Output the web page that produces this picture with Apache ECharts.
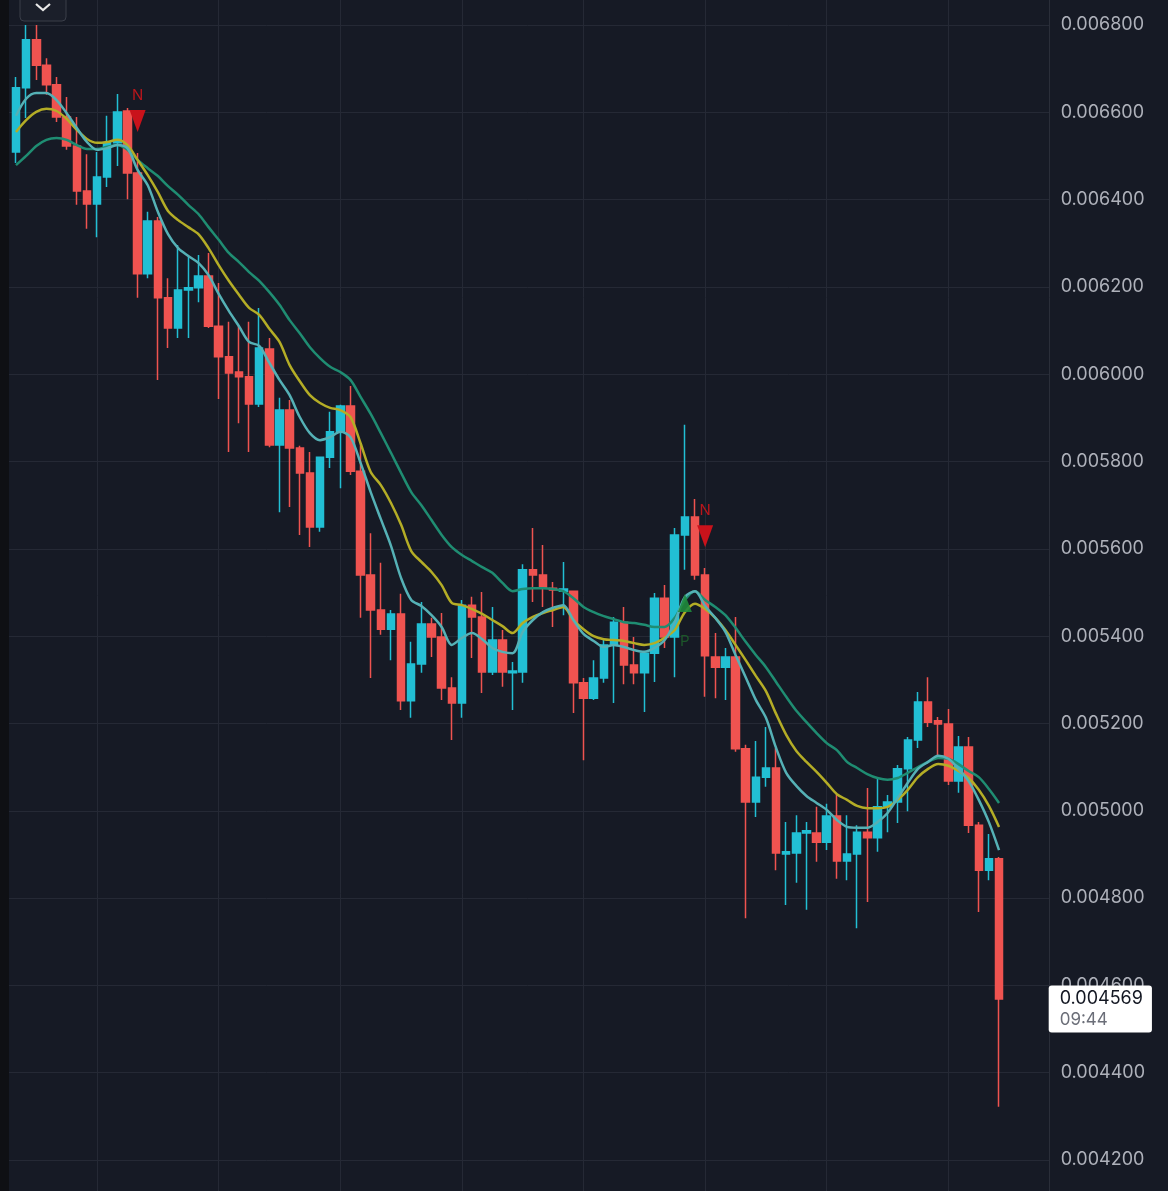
<!DOCTYPE html>
<html>
<head>
<meta charset="utf-8">
<script src="https://cdn.jsdelivr.net/npm/echarts@6/dist/echarts.min.js"></script>
<style>
html,body{margin:0;padding:0;background:#161a25;}
#chart{width:1168px;height:1191px;}
</style>
</head>
<body>
<div id="chart"></div>
<script>
// ---- data ----
const opens = [0.006509,0.006656,0.006766,0.006708,0.006663,0.006589,0.006523,0.006420,0.006390,0.006452,
0.006530,0.006603,0.006461,0.006230,0.006351,0.006175,0.006106,0.006193,0.006198,0.006225,
0.006110,0.006040,0.006005,0.005994,0.005932,0.006058,0.005838,0.005918,0.005831,0.005774,
0.005650,0.005810,0.005868,0.005927,0.005778,0.005540,0.005460,0.005416,0.005451,0.005252,
0.005336,0.005428,0.005398,0.005281,0.005247,0.005471,0.005444,0.005318,0.005391,0.005316,
0.005318,0.005552,0.005540,0.005510,0.005503,0.005503,0.005293,0.005258,0.005304,0.005380,
0.005432,0.005334,0.005316,0.005361,0.005487,0.005398,0.005632,0.005673,0.005540,0.005352,
0.005329,0.005352,0.005142,0.005020,0.005077,0.005098,0.004901,0.004903,0.004949,0.004949,
0.004928,0.004988,0.004885,0.004901,0.004951,0.004938,0.005009,0.005020,0.005096,0.005162,
0.005249,0.005206,0.005199,0.005068,0.005146,0.004967,0.004864,0.004890];
const closes = [0.006656,0.006766,0.006708,0.006663,0.006589,0.006523,0.006420,0.006390,0.006452,0.006530,
0.006601,0.006461,0.006230,0.006351,0.006175,0.006106,0.006193,0.006198,0.006225,0.006110,
0.006040,0.006003,0.005994,0.005932,0.006060,0.005838,0.005918,0.005831,0.005774,0.005650,
0.005810,0.005868,0.005927,0.005778,0.005540,0.005460,0.005416,0.005451,0.005252,0.005336,
0.005428,0.005398,0.005281,0.005247,0.005471,0.005444,0.005318,0.005391,0.005318,0.005320,
0.005552,0.005540,0.005510,0.005506,0.005508,0.005293,0.005258,0.005304,0.005380,0.005432,
0.005334,0.005316,0.005361,0.005487,0.005398,0.005632,0.005673,0.005540,0.005355,0.005329,
0.005352,0.005142,0.005020,0.005077,0.005098,0.004903,0.004906,0.004949,0.004954,0.004928,
0.004988,0.004885,0.004901,0.004951,0.004938,0.005009,0.005020,0.005096,0.005162,0.005249,
0.005203,0.005199,0.005068,0.005146,0.004967,0.004864,0.004890,0.004569];
const lows = [0.006484,0.006587,0.006674,0.006640,0.006578,0.006514,0.006388,0.006333,0.006314,0.006429,
0.006477,0.006401,0.006175,0.006220,0.005987,0.006060,0.006083,0.006083,0.006165,0.006106,
0.005943,0.005822,0.005888,0.005822,0.005925,0.005833,0.005684,0.005696,0.005632,0.005604,
0.005639,0.005785,0.005739,0.005769,0.005442,0.005304,0.005403,0.005345,0.005231,0.005213,
0.005316,0.005352,0.005254,0.005162,0.005213,0.005350,0.005270,0.005311,0.005284,0.005231,
0.005293,0.005478,0.005467,0.005421,0.005448,0.005224,0.005116,0.005254,0.005293,0.005247,
0.005290,0.005290,0.005226,0.005295,0.005373,0.005306,0.005552,0.005529,0.005261,0.005258,
0.005254,0.005135,0.004754,0.004986,0.005055,0.004864,0.004784,0.004835,0.004773,0.004883,
0.004910,0.004844,0.004841,0.004731,0.004791,0.004906,0.004951,0.004972,0.004999,0.005144,
0.005192,0.005123,0.005059,0.005041,0.004949,0.004768,0.004841,0.004322];
const highs = [0.006681,0.006800,0.006800,0.006724,0.006681,0.006635,0.006589,0.006504,0.006509,0.006592,
0.006642,0.006610,0.006507,0.006372,0.006360,0.006220,0.006296,0.006269,0.006273,0.006278,
0.006209,0.006120,0.006113,0.006120,0.006152,0.006083,0.005946,0.005941,0.005836,0.005822,
0.005810,0.005914,0.005930,0.005973,0.005842,0.005636,0.005568,0.005460,0.005497,0.005387,
0.005478,0.005442,0.005453,0.005306,0.005483,0.005490,0.005501,0.005467,0.005414,0.005341,
0.005565,0.005648,0.005609,0.005524,0.005570,0.005503,0.005304,0.005345,0.005391,0.005444,
0.005467,0.005398,0.005364,0.005499,0.005517,0.005648,0.005884,0.005714,0.005556,0.005407,
0.005373,0.005444,0.005151,0.005160,0.005192,0.005144,0.004974,0.004990,0.004974,0.005009,
0.005016,0.005036,0.004990,0.004967,0.005052,0.005077,0.005036,0.005105,0.005169,0.005272,
0.005306,0.005215,0.005233,0.005171,0.005169,0.004974,0.004947,0.004894];

const maFast = [0.006592,0.006631,0.006644,0.006644,0.006628,0.006598,0.006564,0.006532,0.006514,0.006518,
0.006525,0.006518,0.006468,0.006433,0.006372,0.006321,0.006289,0.006271,0.006255,0.006227,
0.006184,0.006145,0.006110,0.006074,0.006065,0.006026,0.005987,0.005952,0.005902,0.005865,
0.005849,0.005856,0.005868,0.005856,0.005797,0.005730,0.005668,0.005607,0.005533,0.005483,
0.005469,0.005448,0.005421,0.005380,0.005396,0.005407,0.005393,0.005373,0.005364,0.005361,
0.005410,0.005437,0.005455,0.005465,0.005471,0.005437,0.005405,0.005389,0.005375,0.005380,
0.005375,0.005368,0.005364,0.005373,0.005391,0.005432,0.005490,0.005503,0.005469,0.005442,
0.005410,0.005357,0.005306,0.005254,0.005213,0.005144,0.005087,0.005057,0.005034,0.005018,
0.005002,0.004979,0.004963,0.004961,0.004961,0.004974,0.004995,0.005029,0.005064,0.005096,
0.005112,0.005126,0.005119,0.005096,0.005068,0.005025,0.004974,0.004910];
const maMid = [0.006555,0.006582,0.006601,0.006608,0.006603,0.006585,0.006560,0.006539,0.006530,0.006532,
0.006537,0.006525,0.006491,0.006456,0.006417,0.006374,0.006353,0.006337,0.006321,0.006289,
0.006250,0.006214,0.006182,0.006152,0.006136,0.006104,0.006074,0.006021,0.005984,0.005952,
0.005934,0.005923,0.005918,0.005902,0.005842,0.005776,0.005746,0.005705,0.005655,0.005595,
0.005570,0.005547,0.005517,0.005476,0.005471,0.005462,0.005451,0.005437,0.005423,0.005407,
0.005430,0.005444,0.005453,0.005460,0.005467,0.005437,0.005416,0.005400,0.005393,0.005391,
0.005389,0.005384,0.005380,0.005384,0.005396,0.005414,0.005455,0.005474,0.005462,0.005442,
0.005414,0.005380,0.005345,0.005309,0.005274,0.005222,0.005174,0.005137,0.005112,0.005089,
0.005064,0.005038,0.005025,0.005011,0.005006,0.005006,0.005009,0.005025,0.005048,0.005077,
0.005096,0.005107,0.005103,0.005091,0.005075,0.005048,0.005011,0.004963];
const maSlow = [0.006479,0.006500,0.006523,0.006537,0.006541,0.006537,0.006525,0.006516,0.006516,0.006521,
0.006525,0.006514,0.006491,0.006472,0.006454,0.006431,0.006411,0.006388,0.006367,0.006337,
0.006308,0.006278,0.006257,0.006234,0.006214,0.006188,0.006159,0.006124,0.006094,0.006062,
0.006037,0.006017,0.006005,0.005987,0.005948,0.005909,0.005865,0.005820,0.005774,0.005730,
0.005700,0.005666,0.005632,0.005604,0.005586,0.005572,0.005558,0.005545,0.005522,0.005503,
0.005508,0.005510,0.005510,0.005508,0.005503,0.005487,0.005467,0.005455,0.005446,0.005439,
0.005432,0.005430,0.005426,0.005421,0.005421,0.005442,0.005483,0.005503,0.005483,0.005467,
0.005448,0.005419,0.005387,0.005357,0.005329,0.005295,0.005261,0.005229,0.005203,0.005178,
0.005155,0.005139,0.005112,0.005098,0.005084,0.005075,0.005071,0.005075,0.005087,0.005100,
0.005112,0.005121,0.005119,0.005107,0.005091,0.005077,0.005050,0.005018];

// signal markers: [slot index, price]
const signalsN = [[13, 0.006580], [69, 0.005629]];
const signalsP = [[67, 0.005476]];
const yTicks = {min: 0.0040, max: 0.0070, step: 0.0002};
const countdown = '09:44';

// slot 0 is an empty leading slot, candles occupy slots 1..98, then empty slots to the right edge
const SLOTS = 104;
const categories = [];
for (let i = 0; i < SLOTS; i++) categories.push(String(i));

const candleData = opens.map((o, i) => [i + 1, o, closes[i], lows[i], highs[i]]);
const lineData = arr => arr.map((v, i) => [i + 1, v]);
const lastClose = closes[closes.length - 1];
const lastSlot = closes.length;

const UP = '#22bfd4', DOWN = '#ef5350';
const FONT = 'Inter, Roboto, sans-serif';

const chart = echarts.init(document.getElementById('chart'), null, {renderer: 'canvas'});
chart.setOption({
  backgroundColor: '#161a25',
  animation: false,
  grid: {left: 5.87, right: 118.3, top: -62.3, bottom: -56.3, containLabel: false, outerBoundsMode: 'none'},
  xAxis: {
    type: 'category',
    data: categories,
    boundaryGap: false,
    axisLine: {show: false},
    axisTick: {show: false},
    axisLabel: {show: false},
    splitLine: {show: true, interval: (idx) => idx % 12 === 9, lineStyle: {color: '#252935', width: 1}}
  },
  yAxis: {
    type: 'value',
    position: 'right',
    min: yTicks.min, max: yTicks.max, interval: yTicks.step,
    axisLine: {show: true, lineStyle: {color: '#2a2e39'}},
    axisTick: {show: false},
    splitLine: {show: true, lineStyle: {color: '#252935', width: 1}},
    axisLabel: {color: '#aeb1ba', fontSize: 18, fontFamily: FONT, margin: 11,
      formatter: v => v.toFixed(6)}
  },
  series: [
    {
      type: 'candlestick',
      data: candleData,
      encode: {x: 0, y: [1, 2, 3, 4]},
      barWidth: 8,
      z: 2,
      itemStyle: {color: UP, color0: DOWN, borderColor: UP, borderColor0: DOWN, borderWidth: 1.5}
    },
    {type: 'line', data: lineData(maSlow), symbol: 'none', smooth: 0.3, z: 3,
      lineStyle: {color: '#1f8d72', width: 2.5}},
    {type: 'line', data: lineData(maMid), symbol: 'none', smooth: 0.3, z: 3,
      lineStyle: {color: '#b4ad26', width: 2.5}},
    {type: 'line', data: lineData(maFast), symbol: 'none', smooth: 0.3, z: 3,
      lineStyle: {color: '#55b1b6', width: 2.5}},
    {type: 'scatter', data: signalsN, z: 5,
      symbol: 'path://M0,0 L10,0 L5,14 Z', symbolSize: [16, 22],
      itemStyle: {color: '#c9121b', opacity: 1},
      label: {show: true, position: 'top', distance: 7, formatter: 'N', color: '#b8161c', fontSize: 15, fontFamily: FONT}},
    {type: 'scatter', data: signalsP, z: 4,
      symbol: 'path://M5,0 L10,14 L0,14 Z', symbolSize: [14, 18],
      itemStyle: {color: '#1f8a3c', opacity: 0.9},
      label: {show: true, position: 'bottom', distance: 22, formatter: 'P', color: '#1d5e2a', fontSize: 15, fontFamily: FONT}},
    // last-price tag on the price axis
    {type: 'scatter', data: [[lastSlot, lastClose]], z: 10, symbolSize: 1, silent: true,
      clip: false,
      itemStyle: {color: 'rgba(0,0,0,0)', opacity: 1},
      label: {
        show: true, position: 'right', distance: 0,
        backgroundColor: '#ffffff', borderRadius: 3, padding: [2, 9, 2, 11],
        formatter: () => '{p|' + lastClose.toFixed(6) + '}\n{t|' + countdown + '}',
        rich: {
          p: {fontSize: 18, color: '#131722', fontFamily: FONT, lineHeight: 22},
          t: {fontSize: 17, color: '#6b6e78', fontFamily: FONT, lineHeight: 21}
        }
      },
      labelLayout: function () {
        return {
          x: chart.convertToPixel({xAxisIndex: 0}, SLOTS - 1) - 1,
          y: chart.convertToPixel({yAxisIndex: 0}, lastClose) + 10,
          align: 'left', verticalAlign: 'middle'
        };
      }
    }
  ],
  graphic: [
    {type: 'rect', z: 100, shape: {x: 0, y: 0, width: 9, height: 1191}, style: {fill: '#0f1014'}},
    {type: 'rect', z: 100, shape: {x: 20, y: -8, width: 46, height: 29, r: 4}, style: {fill: '#1b1f2a', stroke: '#3a3e49', lineWidth: 1}},
    {type: 'polyline', z: 101, shape: {points: [[36, 4], [43, 10], [50, 4]]}, style: {stroke: '#e8e8e8', lineWidth: 2.2, fill: null}}
  ]
});
</script>
</body>
</html>
